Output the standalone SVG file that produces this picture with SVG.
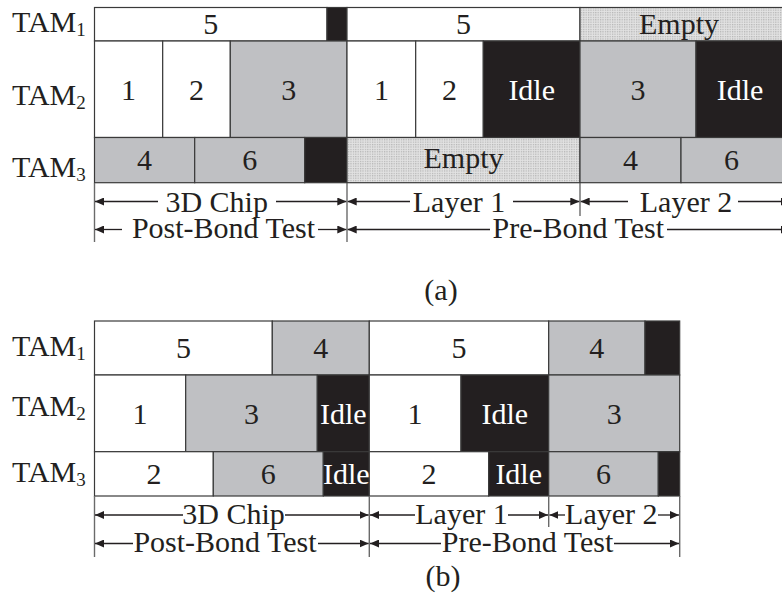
<svg xmlns="http://www.w3.org/2000/svg" width="782" height="600" viewBox="0 0 782 600">
  <defs>
    <pattern id="dots" width="2.4" height="2.4" patternUnits="userSpaceOnUse">
      <rect width="2.4" height="2.4" fill="#e2e2e2"/>
      <rect width="1.2" height="1.2" fill="#b2b2b2"/>
    </pattern>
    <marker id="ah" viewBox="0 0 9 8" refX="9" refY="4" markerWidth="9" markerHeight="8" markerUnits="userSpaceOnUse" orient="auto">
      <path d="M0,0 L9,4 L0,8 z" fill="#231f20"/>
    </marker>
    <style>
      .c { stroke: #3a3a3a; stroke-width: 1.2; }
      .w { fill: #ffffff; }
      .g { fill: #bfc0c3; }
      .k { fill: #231f20; }
      .e { fill: url(#dots); }
      text { font-family: "Liberation Serif", "Times New Roman", serif; font-size: 30px; fill: #231f20; }
      .m { text-anchor: middle; }
      .wt { fill: #ffffff; }
      .sub { font-size: 19px; }
      .tick { stroke: #6a6a6a; stroke-width: 1.4; fill: none; }
      .ar { stroke: #231f20; stroke-width: 1.3; fill: none; marker-end: url(#ah); }
    </style>
  </defs>
  <rect width="782" height="600" fill="#ffffff"/>

  <!-- (a) schedule -->
  <g id="labels-a">
    <text x="12" y="32">TAM<tspan class="sub" dy="4">1</tspan></text>
    <text x="12" y="104.5">TAM<tspan class="sub" dy="4">2</tspan></text>
    <text x="12" y="177">TAM<tspan class="sub" dy="4">3</tspan></text>
  </g>

  <g id="a-tam1">
    <rect class="c w" x="94.5" y="7.5" width="232.5" height="33.5"/>
    <rect class="c k" x="327" y="7.5" width="20" height="33.5"/>
    <rect class="c w" x="347" y="7.5" width="233" height="33.5"/>
    <rect class="c e" x="580" y="7.5" width="210" height="33.5"/>
    <text class="m" x="210.7" y="34">5</text>
    <text class="m" x="463.5" y="34">5</text>
    <text class="m" x="679" y="33.5">Empty</text>
  </g>

  <g id="a-tam2">
    <rect class="c w" x="94.5" y="41" width="68.2" height="96.5"/>
    <rect class="c w" x="162.7" y="41" width="67.6" height="96.5"/>
    <rect class="c g" x="230.3" y="41" width="116.7" height="96.5"/>
    <rect class="c w" x="347" y="41" width="68.7" height="96.5"/>
    <rect class="c w" x="415.7" y="41" width="67.6" height="96.5"/>
    <rect class="c k" x="483.3" y="41" width="96.7" height="96.5"/>
    <rect class="c g" x="580" y="41" width="116" height="96.5"/>
    <rect class="c k" x="696" y="41" width="94" height="96.5"/>
    <text class="m" x="128.6" y="99.5">1</text>
    <text class="m" x="196.5" y="99.5">2</text>
    <text class="m" x="288.7" y="99.5">3</text>
    <text class="m" x="381.4" y="99.5">1</text>
    <text class="m" x="449.5" y="99.5">2</text>
    <text class="m wt" x="531.7" y="99.5">Idle</text>
    <text class="m" x="638" y="99.5">3</text>
    <text class="m wt" x="740" y="99.5">Idle</text>
  </g>

  <g id="a-tam3">
    <rect class="c g" x="94.5" y="137.5" width="100.2" height="45.2"/>
    <rect class="c g" x="194.7" y="137.5" width="110" height="45.2"/>
    <rect class="c k" x="304.7" y="137.5" width="42.3" height="45.2"/>
    <rect class="c e" x="347" y="137.5" width="233" height="45.2"/>
    <rect class="c g" x="580" y="137.5" width="101" height="45.2"/>
    <rect class="c g" x="681" y="137.5" width="109" height="45.2"/>
    <text class="m" x="144.6" y="170">4</text>
    <text class="m" x="249.7" y="170">6</text>
    <text class="m" x="463.5" y="168">Empty</text>
    <text class="m" x="630.5" y="170">4</text>
    <text class="m" x="731.5" y="170">6</text>
  </g>

  <g id="a-dimensions">
    <line class="tick" x1="94.5" y1="183" x2="94.5" y2="242"/>
    <line class="tick" x1="347" y1="183" x2="347" y2="242"/>
    <line class="tick" x1="580" y1="183" x2="580" y2="216"/>
    <line class="ar" x1="158" y1="201.5" x2="95" y2="201.5"/>
    <line class="ar" x1="276" y1="201.5" x2="346.3" y2="201.5"/>
    <line class="ar" x1="122" y1="229.5" x2="95" y2="229.5"/>
    <line class="ar" x1="318" y1="229.5" x2="346.3" y2="229.5"/>
    <line class="ar" x1="410" y1="201.5" x2="347.7" y2="201.5"/>
    <line class="ar" x1="513" y1="201.5" x2="579.3" y2="201.5"/>
    <line class="ar" x1="628" y1="201.5" x2="580.7" y2="201.5"/>
    <line class="ar" x1="738" y1="201.5" x2="790" y2="201.5"/>
    <line class="ar" x1="490" y1="229.5" x2="347.7" y2="229.5"/>
    <line class="ar" x1="667" y1="229.5" x2="790" y2="229.5"/>
    <text class="m" x="216.7" y="212">3D Chip</text>
    <text class="m" x="223.5" y="238">Post-Bond Test</text>
    <text class="m" x="459" y="212">Layer 1</text>
    <text class="m" x="686" y="212">Layer 2</text>
    <text class="m" x="578.3" y="238">Pre-Bond Test</text>
  </g>
  <text id="caption-a" class="m" x="441" y="300">(a)</text>

  <!-- (b) schedule -->
  <g id="labels-b">
    <text x="12" y="355.5">TAM<tspan class="sub" dy="4">1</tspan></text>
    <text x="12" y="415.5">TAM<tspan class="sub" dy="4">2</tspan></text>
    <text x="12" y="481.5">TAM<tspan class="sub" dy="4">3</tspan></text>
  </g>

  <g id="b-tam1">
    <rect class="c w" x="94.5" y="321" width="177.8" height="54"/>
    <rect class="c g" x="272.3" y="321" width="97" height="54"/>
    <rect class="c w" x="369.3" y="321" width="179.4" height="54"/>
    <rect class="c g" x="548.7" y="321" width="96.3" height="54"/>
    <rect class="c k" x="645" y="321" width="34.7" height="54"/>
    <text class="m" x="183.4" y="358">5</text>
    <text class="m" x="320.8" y="358">4</text>
    <text class="m" x="459" y="358">5</text>
    <text class="m" x="596.8" y="358">4</text>
  </g>

  <g id="b-tam2">
    <rect class="c w" x="94.5" y="375" width="91.2" height="76.7"/>
    <rect class="c g" x="185.7" y="375" width="131.6" height="76.7"/>
    <rect class="c k" x="317.3" y="375" width="52" height="76.7"/>
    <rect class="c w" x="369.3" y="375" width="91.7" height="76.7"/>
    <rect class="c k" x="461" y="375" width="87.7" height="76.7"/>
    <rect class="c g" x="548.7" y="375" width="131" height="76.7"/>
    <text class="m" x="140.1" y="423.5">1</text>
    <text class="m" x="251.5" y="423.5">3</text>
    <text class="m wt" x="343.3" y="423.5">Idle</text>
    <text class="m" x="415" y="423.5">1</text>
    <text class="m wt" x="504.8" y="423.5">Idle</text>
    <text class="m" x="614.2" y="423.5">3</text>
  </g>

  <g id="b-tam3">
    <rect class="c w" x="94.5" y="451.7" width="118.8" height="44.3"/>
    <rect class="c g" x="213.3" y="451.7" width="110" height="44.3"/>
    <rect class="c k" x="323.3" y="451.7" width="46" height="44.3"/>
    <rect class="c w" x="369.3" y="451.7" width="119.4" height="44.3"/>
    <rect class="c k" x="488.7" y="451.7" width="60" height="44.3"/>
    <rect class="c g" x="548.7" y="451.7" width="109.6" height="44.3"/>
    <rect class="c k" x="658.3" y="451.7" width="21.4" height="44.3"/>
    <text class="m" x="153.9" y="484">2</text>
    <text class="m" x="268.3" y="484">6</text>
    <text class="m wt" x="346.3" y="484">Idle</text>
    <text class="m" x="429" y="484">2</text>
    <text class="m wt" x="518.7" y="484">Idle</text>
    <text class="m" x="603.5" y="484">6</text>
  </g>

  <g id="b-dimensions">
    <line class="tick" x1="94.5" y1="496" x2="94.5" y2="557"/>
    <line class="tick" x1="369.3" y1="496" x2="369.3" y2="557"/>
    <line class="tick" x1="548.7" y1="496" x2="548.7" y2="527"/>
    <line class="tick" x1="679.7" y1="496" x2="679.7" y2="557"/>
    <line class="ar" x1="183" y1="515" x2="95" y2="515"/>
    <line class="ar" x1="285" y1="515" x2="368.6" y2="515"/>
    <line class="ar" x1="133" y1="543.5" x2="95" y2="543.5"/>
    <line class="ar" x1="318" y1="543.5" x2="368.6" y2="543.5"/>
    <line class="ar" x1="415" y1="515" x2="370" y2="515"/>
    <line class="ar" x1="508" y1="515" x2="548" y2="515"/>
    <line class="ar" x1="565" y1="515" x2="549.4" y2="515"/>
    <line class="ar" x1="658" y1="515" x2="679" y2="515"/>
    <line class="ar" x1="441" y1="543.5" x2="370" y2="543.5"/>
    <line class="ar" x1="614" y1="543.5" x2="679" y2="543.5"/>
    <text class="m" x="233.5" y="523.5">3D Chip</text>
    <text class="m" x="225" y="552">Post-Bond Test</text>
    <text class="m" x="461.5" y="523.5">Layer 1</text>
    <text class="m" x="611.3" y="523.5">Layer 2</text>
    <text class="m" x="527.5" y="552">Pre-Bond Test</text>
  </g>
  <text id="caption-b" class="m" x="443" y="586">(b)</text>
</svg>
